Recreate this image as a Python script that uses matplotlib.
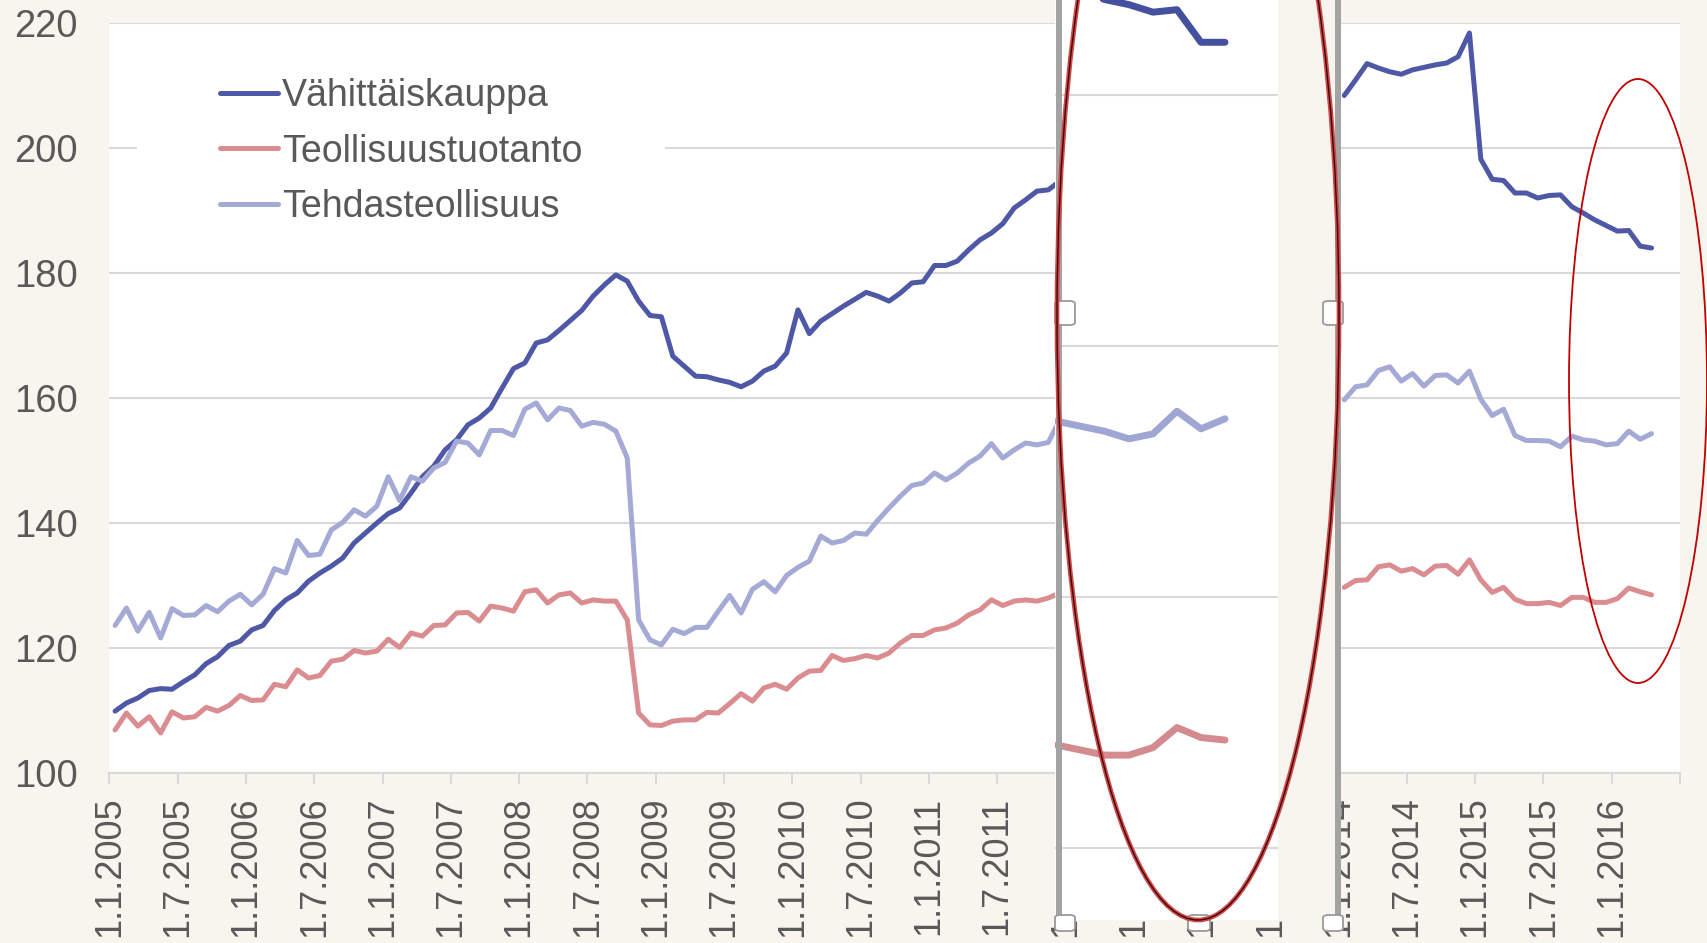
import numpy as np
import matplotlib
matplotlib.use('Agg')
import matplotlib.pyplot as plt
from matplotlib.patches import Rectangle, Ellipse, FancyBboxPatch

# monthly index values, Jan 2005 .. Dec 2011 and Jan 2014 .. Apr 2016
# (2012-2013 is covered by the pasted zoom image, so left empty)
vahittais_a = [109.9, 111.2, 112.0, 113.2, 113.5, 113.4, 114.6, 115.7, 117.5, 118.6, 120.4, 121.1,
               122.9, 123.6, 126.0, 127.7, 128.8, 130.7, 132.0, 133.1, 134.4, 136.8, 138.4, 140.0,
               141.5, 142.4, 144.8, 147.4, 149.1, 151.7, 153.3, 155.7, 156.8, 158.4, 161.6, 164.7,
               165.6, 168.8, 169.3, 170.8, 172.4, 174.0, 176.3, 178.1, 179.7, 178.7, 175.5, 173.2,
               173.0, 166.7, 165.1, 163.5, 163.4, 162.9, 162.5, 161.8, 162.7, 164.3, 165.1, 167.2,
               174.1, 170.3, 172.3, 173.5, 174.7, 175.8, 176.9, 176.3, 175.5, 176.8, 178.4, 178.6,
               181.2, 181.2, 181.9, 183.7, 185.3, 186.4, 187.9, 190.4, 191.7, 193.1, 193.3, 194.7]
vahittais_b = [208.4, 210.9, 213.5, 212.8, 212.2, 211.8, 212.5, 212.9, 213.3, 213.6, 214.6, 218.4,
               198.2, 195.0, 194.8, 192.8, 192.8, 192.0, 192.4, 192.5, 190.6, 189.6, 188.5, 187.6,
               186.7, 186.8, 184.3, 184.0]

teoll_a = [106.9, 109.6, 107.5, 109.0, 106.4, 109.8, 108.8, 109.0, 110.5, 109.9, 110.8, 112.4,
           111.6, 111.7, 114.2, 113.8, 116.5, 115.2, 115.6, 117.9, 118.2, 119.6, 119.2, 119.5,
           121.4, 120.1, 122.4, 121.9, 123.6, 123.7, 125.6, 125.7, 124.3, 126.7, 126.4, 125.9,
           129.0, 129.3, 127.2, 128.5, 128.8, 127.2, 127.7, 127.5, 127.5, 124.5, 109.6, 107.7,
           107.6, 108.3, 108.5, 108.5, 109.7, 109.6, 111.1, 112.7, 111.5, 113.6, 114.2, 113.4,
           115.2, 116.3, 116.4, 118.8, 118.0, 118.3, 118.8, 118.4, 119.2, 120.8, 122.0, 122.0,
           122.9, 123.2, 124.0, 125.3, 126.1, 127.7, 126.8, 127.5, 127.7, 127.5, 128.0, 128.8]
teoll_b = [129.7, 130.8, 130.9, 133.0, 133.3, 132.3, 132.7, 131.7, 133.1, 133.2, 131.8, 134.1,
           130.9, 128.9, 129.7, 127.8, 127.1, 127.1, 127.3, 126.8, 128.1, 128.1, 127.3, 127.3,
           127.9, 129.6, 129.0, 128.5]

tehdas_a = [123.6, 126.4, 122.7, 125.7, 121.6, 126.3, 125.2, 125.3, 126.8, 125.8, 127.5, 128.6,
            126.9, 128.6, 132.7, 132.0, 137.2, 134.8, 135.0, 138.9, 140.1, 142.1, 141.1, 142.7,
            147.4, 143.6, 147.4, 146.7, 148.8, 149.7, 153.1, 152.8, 150.9, 154.8, 154.8, 154.0,
            158.2, 159.2, 156.5, 158.4, 158.0, 155.5, 156.1, 155.8, 154.7, 150.4, 124.5, 121.3,
            120.5, 123.0, 122.3, 123.3, 123.3, 125.9, 128.4, 125.6, 129.4, 130.6, 129.0, 131.6,
            132.9, 133.9, 137.9, 136.8, 137.2, 138.4, 138.2, 140.4, 142.4, 144.3, 146.0, 146.4,
            148.0, 146.9, 148.0, 149.6, 150.7, 152.7, 150.4, 151.7, 152.8, 152.5, 152.9, 156.5]
tehdas_b = [159.7, 161.8, 162.1, 164.4, 165.0, 162.7, 163.9, 161.9, 163.6, 163.7, 162.4, 164.3,
            159.8, 157.2, 158.2, 154.0, 153.2, 153.2, 153.1, 152.2, 153.9, 153.3, 153.1, 152.5,
            152.7, 154.7, 153.4, 154.3]

hidden = [np.nan] * 24

tick_labels = ['1.1.2005', '1.7.2005', '1.1.2006', '1.7.2006', '1.1.2007', '1.7.2007',
               '1.1.2008', '1.7.2008', '1.1.2009', '1.7.2009', '1.1.2010', '1.7.2010',
               '1.1.2011', '1.7.2011', '1.1.2012', '1.7.2012', '1.1.2013', '1.7.2013',
               '1.1.2014', '1.7.2014', '1.1.2015', '1.7.2015', '1.1.2016', '']

# values seen in the pasted zoom picture (its own scale)
inset_vahittais = [44.7, 44.1, 43.8, 43.6, 43.3, 43.4, 42.1, 42.1]
inset_tehdas = [27.0, 26.8, 26.6, 26.3, 26.5, 27.4, 26.7, 27.1]
inset_teoll = [14.1, 13.9, 13.7, 13.7, 14.0, 14.8, 14.4, 14.3]

series = [
    ('Vähittäiskauppa', vahittais_a + hidden + vahittais_b, '#4f58a6'),
    ('Teollisuustuotanto', teoll_a + hidden + teoll_b, '#db8c91'),
    ('Tehdasteollisuus', tehdas_a + hidden + tehdas_b, '#a5a9d6'),
]

W, H = 1708, 943
BEIGE = '#f8f4ee'
GRID = '#d9d9d9'
TXT = '#595959'


def fx(px):
    return px / W


def fy(py):
    return 1 - py / H


plt.rcParams['font.family'] = ['Liberation Sans', 'DejaVu Sans']

fig = plt.figure(figsize=(W / 100, H / 100), dpi=100, facecolor=BEIGE)
ax = fig.add_axes([fx(109.4), fy(773), fx(1680) - fx(109.4), fy(23) - fy(773)])
ax.set_facecolor('white')

for name, vals, col in series:
    x = np.arange(len(vals)) + 0.5
    ax.plot(x, vals, color=col, lw=3.6, label=name, solid_capstyle='round', zorder=3)

ax.set_xlim(0, 138)
ax.set_ylim(100, 220)
ax.set_yticks(range(100, 221, 20))
ax.set_xticks(range(0, 139, 6))
ax.set_xticklabels(tick_labels)
ax.tick_params(axis='x', labelrotation=90, length=8, width=1.4, color=GRID,
               labelsize=26, labelcolor=TXT, pad=9)
ax.tick_params(axis='y', length=0, labelsize=27.5, labelcolor=TXT, pad=23)
ax.grid(axis='y', color=GRID, lw=1.5)
ax.set_axisbelow(True)
for s in ['left', 'right', 'top']:
    ax.spines[s].set_visible(False)
ax.spines['bottom'].set_color(GRID)
ax.spines['bottom'].set_linewidth(1.5)

# white legend area over the grid
ax.add_patch(Rectangle((fx(137), fy(258)), fx(665) - fx(137), fy(40) - fy(258),
                       transform=fig.transFigure, facecolor='white', edgecolor='none', zorder=2))
leg = ax.legend(loc='upper left', bbox_to_anchor=(fx(220), fy(78)), bbox_transform=fig.transFigure,
                frameon=False, fontsize=27, handlelength=1.55, handletextpad=0.1,
                labelspacing=0.52, borderpad=0, borderaxespad=0)
for t in leg.get_texts():
    t.set_color(TXT)
leg.set_zorder(4)

# pasted zoom picture on top of 2012-2013
fig.add_artist(Rectangle((fx(1055), fy(920)), fx(1340) - fx(1055), 920 / H,
                         transform=fig.transFigure, facecolor=BEIGE, edgecolor='none', zorder=4))
fig.add_artist(Rectangle((fx(1048), fy(920)), fx(10), (920 - 776) / H,
                         transform=fig.transFigure, facecolor=BEIGE, edgecolor='none', zorder=4))
ins = fig.add_axes([fx(1055), fy(920), fx(1278) - fx(1055), 920 / H], zorder=5)
ins.set_facecolor('white')
kx = np.arange(len(inset_vahittais))
ins.plot(kx, inset_vahittais, color='#45509f', lw=5, solid_capstyle='round')
ins.plot(kx, inset_tehdas, color='#a0a6d4', lw=5, solid_capstyle='round')
ins.plot(kx, inset_teoll, color='#d48b90', lw=5, solid_capstyle='round')
ins.set_xlim((1055 - 1057) / 24, (1278 - 1057) / 24)
ins.set_ylim(40 - (920 - 95) / 25.1, 40 + 95 / 25.1)
ins.set_yticks([10, 20, 30, 40])
ins.set_xticks([])
ins.tick_params(axis='y', length=0, labelleft=False)
ins.grid(axis='y', color=GRID, lw=1.5)
ins.set_axisbelow(True)
for s in ins.spines.values():
    s.set_visible(False)

# frame bars and handles of the picture
for x0 in (1056, 1335):
    fig.add_artist(Rectangle((fx(x0), fy(926)), fx(6), 926 / H, transform=fig.transFigure,
                             facecolor='#a3a3a3', edgecolor='none', zorder=6))
for hx, hy, hw, hh in [(1055, 301, 20, 24), (1323, 301, 20, 24),
                       (1055, 915, 20, 16), (1188, 915, 22, 16), (1323, 915, 20, 16)]:
    fig.add_artist(FancyBboxPatch((fx(hx), fy(hy + hh)), fx(hw), hh / H,
                                  boxstyle='round,pad=0,rounding_size=0.003',
                                  transform=fig.transFigure, facecolor='white',
                                  edgecolor='#9a9a9a', lw=1.3, zorder=7))

# red ellipses
fig.add_artist(Ellipse((fx(1198), fy(316)), fx(282), 1208 / H, transform=fig.transFigure,
                       fill=False, edgecolor='#d04848', lw=3.4, zorder=8))
fig.add_artist(Ellipse((fx(1198), fy(316)), fx(282), 1208 / H, transform=fig.transFigure,
                       fill=False, edgecolor='#3a0808', lw=1.0, zorder=9))
fig.add_artist(Ellipse((fx(1638), fy(381)), fx(138), 604 / H, transform=fig.transFigure,
                       fill=False, edgecolor='#c00000', lw=1.3, zorder=8))

fig.savefig('out.png', dpi=100, facecolor=BEIGE)
